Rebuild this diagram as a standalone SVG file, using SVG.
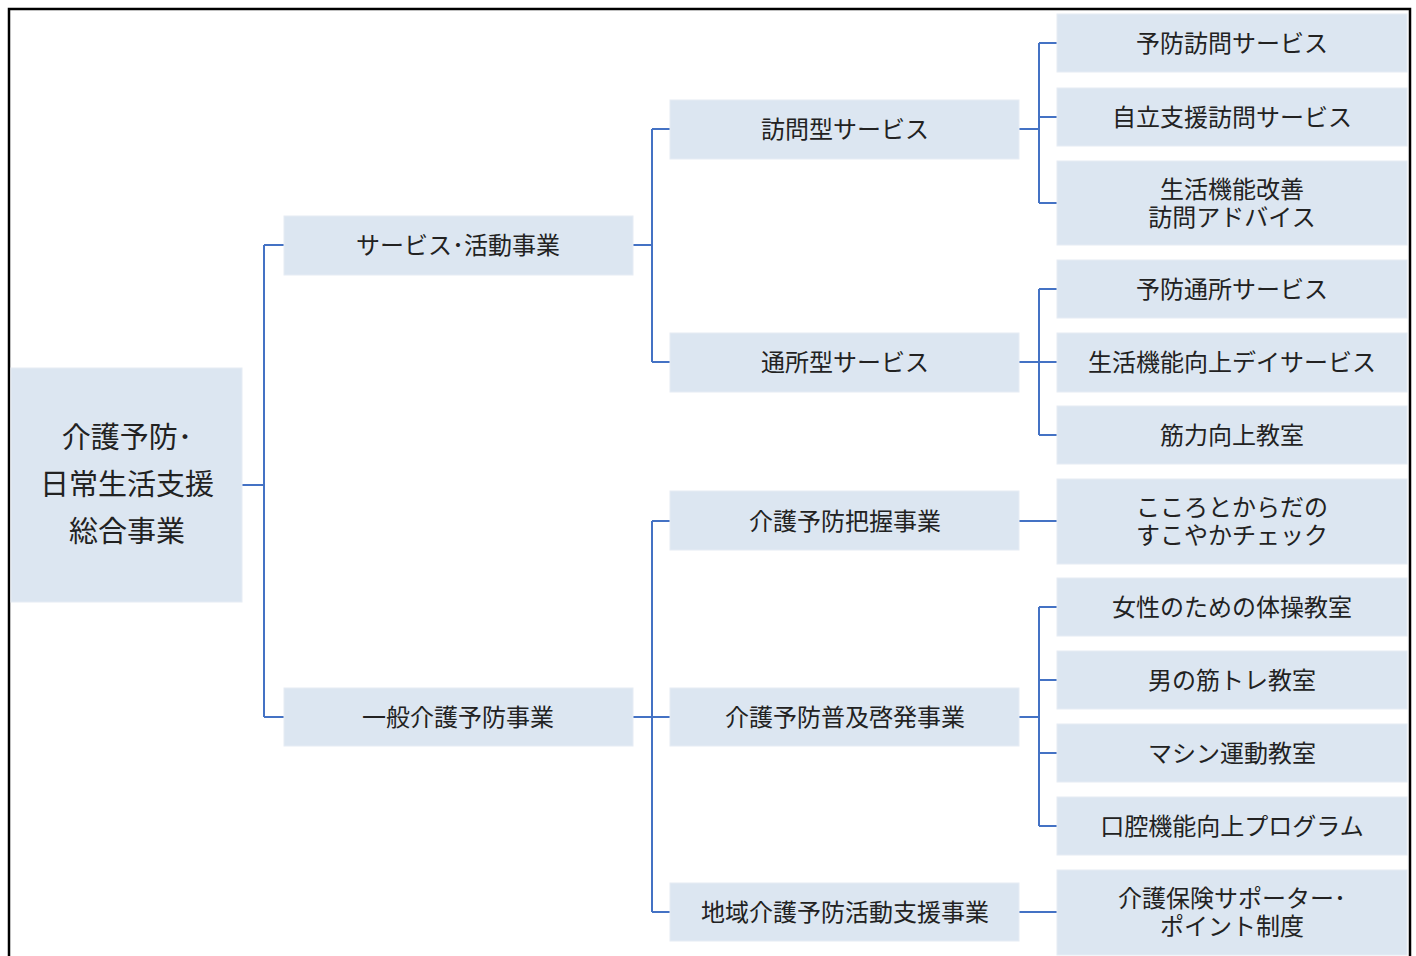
<svg xmlns="http://www.w3.org/2000/svg" width="1416" height="956" viewBox="0 0 1416 956">
<style>
.b{fill:#dce6f1;stroke:#e6ecf4;stroke-width:1}
.t{font-family:"Noto Sans CJK JP","Noto Sans",sans-serif;font-size:24px;fill:#222;text-anchor:middle;dominant-baseline:central}
.r{font-size:29px}
.c{fill:none;stroke:#4472c4;stroke-width:2}
</style>
<rect x="0" y="0" width="1416" height="956" fill="#fff"/>
<path d="M9,960 V9 H1410 V960" fill="none" stroke="#000" stroke-width="2.5"/>
<g id="connectors" class="c">
<path d="M242,485 H264 M264,245 V717 M264,245 H284 M264,717 H284"/>
<path d="M633,245 H652 M652,129 V362 M652,129 H670 M652,362 H670"/>
<path d="M633,717 H670 M652,521 V912 M652,521 H670 M652,912 H670"/>
<path d="M1019,129 H1039 M1039,43 V203 M1039,43 H1057 M1039,117 H1057 M1039,203 H1057"/>
<path d="M1019,362 H1057 M1039,289 V435 M1039,289 H1057 M1039,435 H1057"/>
<path d="M1019,521 H1057"/>
<path d="M1019,717 H1039 M1039,607 V826 M1039,607 H1057 M1039,680 H1057 M1039,753 H1057 M1039,826 H1057"/>
<path d="M1019,912 H1057"/>
</g>
<g id="root"><rect class="b" x="11" y="368" width="231" height="234"/>
<text class="t r" x="127" y="435">介護予防･</text><text class="t r" x="127" y="482">日常生活支援</text><text class="t r" x="127" y="529">総合事業</text></g>
<g id="n1"><rect class="b" x="284" y="216" width="349" height="59"/><text class="t" x="458" y="243">サービス･活動事業</text></g>
<g id="n2"><rect class="b" x="284" y="688" width="349" height="58"/><text class="t" x="458" y="715">一般介護予防事業</text></g>
<g id="n3"><rect class="b" x="670" y="100" width="349" height="59"/><text class="t" x="845" y="127">訪問型サービス</text></g>
<g id="n4"><rect class="b" x="670" y="333" width="349" height="59"/><text class="t" x="845" y="360">通所型サービス</text></g>
<g id="n5"><rect class="b" x="670" y="491" width="349" height="59"/><text class="t" x="845" y="519">介護予防把握事業</text></g>
<g id="n6"><rect class="b" x="670" y="688" width="349" height="58"/><text class="t" x="845" y="715">介護予防普及啓発事業</text></g>
<g id="n7"><rect class="b" x="670" y="883" width="349" height="58"/><text class="t" x="845" y="910">地域介護予防活動支援事業</text></g>
<g id="l1"><rect class="b" x="1057" y="14" width="350" height="58"/><text class="t" x="1232" y="41">予防訪問サービス</text></g>
<g id="l2"><rect class="b" x="1057" y="88" width="350" height="58"/><text class="t" x="1232" y="115">自立支援訪問サービス</text></g>
<g id="l3"><rect class="b" x="1057" y="161" width="350" height="84"/><text class="t" x="1232" y="187">生活機能改善</text><text class="t" x="1232" y="215">訪問アドバイス</text></g>
<g id="l4"><rect class="b" x="1057" y="260" width="350" height="58"/><text class="t" x="1232" y="287">予防通所サービス</text></g>
<g id="l5"><rect class="b" x="1057" y="333" width="350" height="59"/><text class="t" x="1232" y="360">生活機能向上デイサービス</text></g>
<g id="l6"><rect class="b" x="1057" y="406" width="350" height="58"/><text class="t" x="1232" y="433">筋力向上教室</text></g>
<g id="l7"><rect class="b" x="1057" y="479" width="350" height="85"/><text class="t" x="1232" y="505">こころとからだの</text><text class="t" x="1232" y="533">すこやかチェック</text></g>
<g id="l8"><rect class="b" x="1057" y="578" width="350" height="58"/><text class="t" x="1232" y="605">女性のための体操教室</text></g>
<g id="l9"><rect class="b" x="1057" y="651" width="350" height="58"/><text class="t" x="1232" y="678">男の筋トレ教室</text></g>
<g id="l10"><rect class="b" x="1057" y="724" width="350" height="58"/><text class="t" x="1232" y="751">マシン運動教室</text></g>
<g id="l11"><rect class="b" x="1057" y="797" width="350" height="58"/><text class="t" x="1232" y="824">口腔機能向上プログラム</text></g>
<g id="l12"><rect class="b" x="1057" y="870" width="350" height="85"/><text class="t" x="1232" y="896">介護保険サポーター･</text><text class="t" x="1232" y="924">ポイント制度</text></g>
</svg>
